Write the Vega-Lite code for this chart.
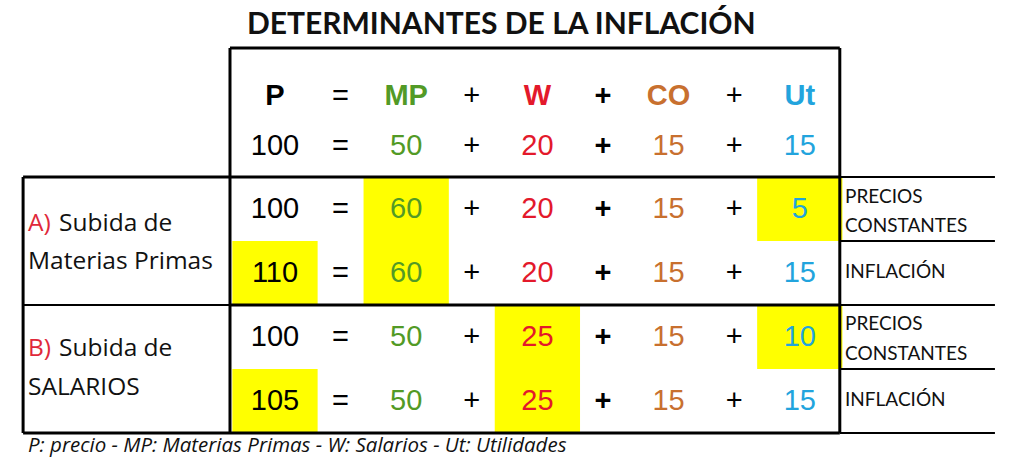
{
  "$schema": "https://vega.github.io/schema/vega-lite/v6.json",
  "width": 1024,
  "height": 469,
  "autosize": {"type": "fit", "contains": "padding"},
  "padding": 0,
  "background": "white",
  "config": {"view": {"stroke": null}},
  "datasets": {
    "terms": [
      {"key": "P", "cx": 0},
      {"key": "MP", "cx": 2},
      {"key": "W", "cx": 4},
      {"key": "CO", "cx": 6},
      {"key": "Ut", "cx": 8}
    ],
    "equations": [
      {"eq": "base", "cy": -0.98, "P": 100, "MP": 50, "W": 20, "CO": 15, "Ut": 15},
      {"eq": "A1", "cy": 0, "P": 100, "MP": 60, "W": 20, "CO": 15, "Ut": 5},
      {"eq": "A2", "cy": 1, "P": 110, "MP": 60, "W": 20, "CO": 15, "Ut": 15},
      {"eq": "B1", "cy": 2, "P": 100, "MP": 50, "W": 25, "CO": 15, "Ut": 10},
      {"eq": "B2", "cy": 3, "P": 105, "MP": 50, "W": 25, "CO": 15, "Ut": 15}
    ],
    "highlights": [
      {"row": 0, "key": "MP"},
      {"row": 0, "key": "Ut"},
      {"row": 1, "key": "P"},
      {"row": 1, "key": "MP"},
      {"row": 2, "key": "W"},
      {"row": 2, "key": "Ut"},
      {"row": 3, "key": "P"},
      {"row": 3, "key": "W"}
    ],
    "signs": [
      {"cx": 1, "s": "=", "cy": [-1.77, -0.98, 0, 1, 2, 3]},
      {"cx": 3, "s": "+", "cy": [-1.77, -0.98, 0, 1, 2, 3]},
      {"cx": 5, "s": "+", "cy": [-1.77, -0.98, 0, 1, 2, 3]},
      {"cx": 7, "s": "+", "cy": [-1.77, -0.98, 0, 1, 2, 3]}
    ],
    "lines": [
      {"cx": -0.686, "cx2": 8.61, "cy": -2.516, "cy2": -2.516, "weight": "thick"},
      {"cx": -0.686, "cx2": -0.686, "cy": -2.516, "cy2": 3.5, "weight": "thick"},
      {"cx": 8.61, "cx2": 8.61, "cy": -2.516, "cy2": 3.5, "weight": "thick"},
      {"cx": -3.84, "cx2": -3.84, "cy": -0.5, "cy2": 3.5, "weight": "thick"},
      {"cx": -3.84, "cx2": 8.61, "cy": -0.5, "cy2": -0.5, "weight": "thick"},
      {"cx": 8.61, "cx2": 10.975, "cy": -0.5, "cy2": -0.5, "weight": "thin"},
      {"cx": 8.61, "cx2": 10.975, "cy": 0.5, "cy2": 0.5, "weight": "thin"},
      {"cx": -3.84, "cx2": -0.686, "cy": 1.5, "cy2": 1.5, "weight": "thin"},
      {"cx": -0.686, "cx2": 8.61, "cy": 1.5, "cy2": 1.5, "weight": "thick"},
      {"cx": 8.61, "cx2": 10.975, "cy": 1.5, "cy2": 1.5, "weight": "thin"},
      {"cx": 8.61, "cx2": 10.975, "cy": 2.5, "cy2": 2.5, "weight": "thin"},
      {"cx": -3.84, "cx2": 8.61, "cy": 3.5, "cy2": 3.5, "weight": "thick"},
      {"cx": 8.61, "cx2": 10.975, "cy": 3.5, "cy2": 3.5, "weight": "thin"}
    ],
    "groups": [
      {"cy": 0.23, "tag": "A)", "label": "Subida de"},
      {"cy": 0.83, "tag": "", "label": "Materias Primas"},
      {"cy": 2.19, "tag": "B)", "label": "Subida de"},
      {"cy": 2.79, "tag": "", "label": "SALARIOS"}
    ],
    "outcomes": [
      {"cy": -0.19, "label": "PRECIOS"},
      {"cy": 0.26, "label": "CONSTANTES"},
      {"cy": 0.99, "label": "INFLACIÓN"},
      {"cy": 1.8, "label": "PRECIOS"},
      {"cy": 2.27, "label": "CONSTANTES"},
      {"cy": 2.99, "label": "INFLACIÓN"}
    ],
    "notes": [
      {"part": "title", "text": "DETERMINANTES DE LA INFLACIÓN"},
      {"part": "footer", "text": "P: precio - MP: Materias Primas - W: Salarios - Ut: Utilidades"}
    ]
  },
  "encoding": {
    "x": {"field": "cx", "type": "quantitative", "scale": {"domain": [-4.192, 11.418], "nice": false, "zero": false}, "axis": null},
    "y": {"field": "cy", "type": "quantitative", "scale": {"domain": [-3.266, 4.0625], "nice": false, "zero": false, "reverse": true}, "axis": null}
  },
  "layer": [
    {
      "data": {"name": "highlights"},
      "transform": [
        {"lookup": "key", "from": {"data": {"name": "terms"}, "key": "key", "fields": ["cx"]}, "as": ["col"]},
        {"calculate": "datum.col - 0.65", "as": "cx"},
        {"calculate": "datum.col + 0.65", "as": "cx2"},
        {"calculate": "datum.row - 0.5", "as": "cy"},
        {"calculate": "datum.row + 0.5", "as": "cy2"}
      ],
      "mark": {"type": "rect", "color": "#ffff00"},
      "encoding": {
        "x2": {"field": "cx2"},
        "y2": {"field": "cy2"}
      }
    },
    {
      "data": {"name": "lines"},
      "mark": {"type": "rule", "color": "#000000"},
      "encoding": {
        "x2": {"field": "cx2"},
        "y2": {"field": "cy2"},
        "strokeWidth": {"field": "weight", "type": "nominal", "scale": {"domain": ["thick", "thin"], "range": [3, 1.8]}, "legend": null}
      }
    },
    {
      "data": {"name": "terms"},
      "transform": [{"calculate": "-1.77", "as": "cy"}],
      "mark": {"type": "text", "font": "Liberation Sans", "fontSize": 29, "fontWeight": "bold", "align": "center", "baseline": "middle"},
      "encoding": {
        "text": {"field": "key"},
        "color": {"field": "key", "type": "nominal", "scale": {"domain": ["P", "MP", "W", "CO", "Ut"], "range": ["#000000", "#529a26", "#e3192b", "#c8702f", "#22a4dd"]}, "legend": null}
      }
    },
    {
      "data": {"name": "equations"},
      "transform": [
        {"fold": ["P", "MP", "W", "CO", "Ut"], "as": ["key", "value"]},
        {"lookup": "key", "from": {"data": {"name": "terms"}, "key": "key", "fields": ["cx"]}}
      ],
      "mark": {"type": "text", "font": "Liberation Sans", "fontSize": 29, "align": "center", "baseline": "middle"},
      "encoding": {
        "text": {"field": "value"},
        "color": {"field": "key", "type": "nominal", "legend": null}
      }
    },
    {
      "data": {"name": "signs"},
      "transform": [{"flatten": ["cy"]}, {"filter": "datum.cx != 5"}],
      "mark": {"type": "text", "font": "Liberation Sans", "fontSize": 29, "align": "center", "baseline": "middle", "color": "#000000"},
      "encoding": {"text": {"field": "s"}}
    },
    {
      "data": {"name": "signs"},
      "transform": [{"flatten": ["cy"]}, {"filter": "datum.cx == 5"}],
      "mark": {"type": "text", "font": "Liberation Sans", "fontSize": 29, "fontWeight": "bold", "align": "center", "baseline": "middle", "color": "#000000"},
      "encoding": {"text": {"field": "s"}}
    },
    {
      "data": {"name": "groups"},
      "transform": [{"filter": "datum.tag != ''"}, {"calculate": "-3.765", "as": "cx"}],
      "mark": {"type": "text", "font": "Open Sans", "fontSize": 24.5, "align": "left", "baseline": "middle", "color": "#e0283a"},
      "encoding": {"text": {"field": "tag"}}
    },
    {
      "data": {"name": "groups"},
      "transform": [{"filter": "datum.tag != ''"}, {"calculate": "-3.765", "as": "cx"}],
      "mark": {"type": "text", "font": "Open Sans", "fontSize": 24.5, "align": "left", "baseline": "middle", "color": "#111111", "dx": 31},
      "encoding": {"text": {"field": "label"}}
    },
    {
      "data": {"name": "groups"},
      "transform": [{"filter": "datum.tag == ''"}, {"calculate": "-3.765", "as": "cx"}],
      "mark": {"type": "text", "font": "Open Sans", "fontSize": 24.5, "align": "left", "baseline": "middle", "color": "#111111"},
      "encoding": {"text": {"field": "label"}}
    },
    {
      "data": {"name": "outcomes"},
      "transform": [{"calculate": "8.69", "as": "cx"}],
      "mark": {"type": "text", "font": "Lato", "fontSize": 19, "align": "left", "baseline": "middle", "color": "#111111"},
      "encoding": {"text": {"field": "label"}}
    },
    {
      "data": {"name": "notes"},
      "transform": [{"filter": "datum.part == 'title'"}, {"calculate": "3.45", "as": "cx"}, {"calculate": "-2.875", "as": "cy"}],
      "mark": {"type": "text", "font": "Lato", "fontSize": 30, "fontWeight": "bold", "align": "center", "baseline": "middle", "color": "#111111"},
      "encoding": {"text": {"field": "text"}}
    },
    {
      "data": {"name": "notes"},
      "transform": [{"filter": "datum.part == 'footer'"}, {"calculate": "-3.765", "as": "cx"}, {"calculate": "3.7", "as": "cy"}],
      "mark": {"type": "text", "font": "Open Sans", "fontSize": 20.5, "fontStyle": "italic", "align": "left", "baseline": "middle", "color": "#111111"},
      "encoding": {"text": {"field": "text"}}
    }
  ]
}
